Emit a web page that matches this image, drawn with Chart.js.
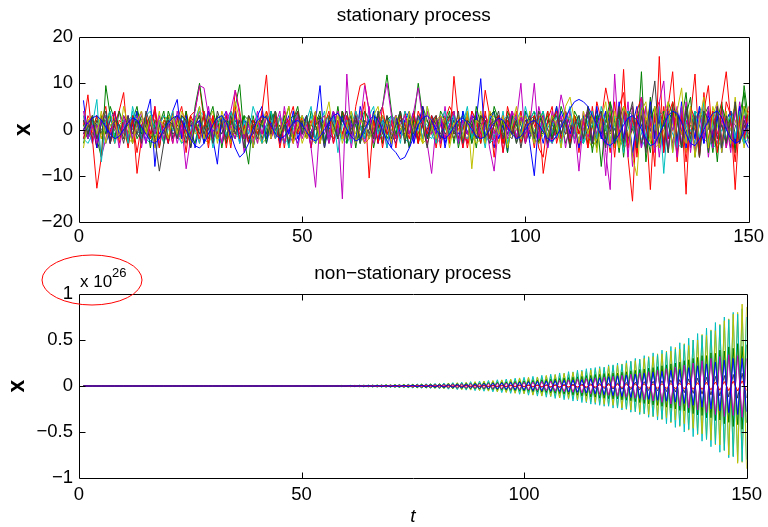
<!DOCTYPE html>
<html><head><meta charset="utf-8">
<script src="https://cdn.jsdelivr.net/npm/chart.js@4.4.0/dist/chart.umd.min.js"></script>
<style>
html,body{margin:0;padding:0;background:#fff;}
#wrap{position:relative;width:768px;height:527px;overflow:hidden;}
canvas{position:absolute;left:0;}
#c1{top:0;width:768px;height:260px;}
#c2{top:250px;width:768px;height:277px;}
</style></head><body>
<div id="wrap"><canvas id="c1" width="768" height="260"></canvas><canvas id="c2" width="768" height="277"></canvas></div>
<script>
// ---------- tick labels ----------
const xTicks = [0, 50, 100, 150];
const yTicksTop = [-20, -10, 0, 10, 20];
const yTicksBottom = [-1, -0.5, 0, 0.5, 1];
const exponentLabel = '26';

// ---------- stationary process (top) ----------
const sBlue1 = [
6.3,-2,3,-4,2,1,-3,4,-1,2,
-3,1,4,-2,3,6.6,-8,2,1,-3,
4,6.5,-2,3,-4,1,2,-3,4,-2,
-7.5,3,1,-2,4,-3,2,1,-4,3,
5,-2,1,3,-3,2,-1,4,-2,1,
3,-4,2,9.5,-3,1,4,-2,3,-1,
2,-3,5,1,-2,4,-3,2,1,-4,
3,-1,2,4,-3,1,5,-2,2,-1,
3,-4,1,2,-3,4,-1,3,2,11,
-3,2,4,-2,1,-5,3,2,-1,4,
-3,-10,2,3,-4,1,5,-2,3,-1,
2,-4,3,1,-3,5,-2,4,1,-3,
6,-2,4,-5,3,1,-4,6,-2,3,
-5,4,2,-3,6,-4,3,-2,5,-3,
4,-2,3,-5,2,4,-3,5,-2,-4];
const sGreen1 = [
2,-1,3,-2,-6,9.5,3,-2,4,1,
-3,2,5,-1,3,-4,2,1,-3,4,
1,-2,3,2,-4,5,10,3,-2,1,
3,-4,2,1,5,9.7,-2,-7.5,3,-1,
2,-3,4,1,-2,3,-4,2,5,-1,
3,-2,1,4,-3,2,1,-2,4,-3,
2,1,-3,4,2,-1,3,5,11.8,4,
-2,3,1,-4,2,10,3,-2,1,-3,
4,2,-1,3,-4,1,2,-3,5,1,
-2,3,4,-1,2,-5,3,1,-2,4,
2,-3,1,4,-2,3,-1,5,2,-4,
3,1,-2,4,-5,3,-8,2,6,-3,
4,-6,3,5,-4,12.5,-7,2,5,-3,
4,-5,6,2,-4,3,7,-6,2,4,
-5,3,-7,5,2,-4,6,-3,9.5,2];
const sRed1 = [
1,7.5,-2,-12.7,-6,2,-1,4,-3,2,
-4,3,-9.5,-2,3,-1,5,-2,1,-3,
4,-2,2,-5,3,1,-2,4,-3,2,
-1,3,-4,2,5,-2,1,-3,2,-1,
4,11.8,-2,3,-4,1,2,-3,4,-1,
2,-4,3,-2,1,4,-3,2,-1,3,
-2,4,1,6,-10.5,2,-3,5,-1,2,
-4,3,1,-2,4,-3,2,-1,3,-4,
2,1,-3,11.5,2,-4,3,-1,2,-3,
4,-2,1,3,-5,2,-1,4,-3,1,
2,-4,3,-9.5,-3,2,4,-2,1,-3,
3,-1,2,-4,5,-2,3,1,-5,6,
-3,13,-6,-15.5,4,7,-4,2,-8,15.8,
-5,3,6,-7,4,-14,5,2,-6,8,
-3,4,-5,6,12.5,2,-7,4,-2,5];
const sCyan1 = [
3,-2,1,6.5,-7,2,4,-3,1,2,
-3,5,1,-2,3,4,-1,2,-3,1,
4,-2,3,1,-3,2,5,-1,2,-4,
1,3,-2,4,1,-3,2,-1,5,2,
-3,1,4,-2,3,1,-4,2,3,-1,
2,5,-3,1,4,-2,3,-5,1,2,
-3,4,1,-2,3,5,-1,2,-4,3,
1,-3,4,2,-1,3,-2,5,1,-3,
2,4,-1,3,-3,1,5,-2,2,1,
-4,3,2,-1,4,-3,1,3,-2,5,
1,-3,2,4,-2,1,3,-4,2,5,
-1,3,-3,2,4,-2,5,1,-4,3,
2,-5,4,1,-3,6,-2,3,-4,5,
-9.5,3,2,-4,5,1,-3,4,-2,6,
-3,2,5,-4,1,3,-2,4,-3,1];
const sMagenta1 = [
4,-2,1,-3,2,3,-1,2,-4,1,
3,-2,1,4,-3,2,-1,3,-2,1,
2,-3,1,-8.5,-2,4,9.5,9,3,-2,
1,-3,2,4,8.5,3,-2,1,-3,2,
-1,3,-2,1,4,-3,2,-1,3,-2,
1,-4,-12.5,2,3,-2,4,1,-15,12,
-2,3,1,9.5,4,-3,2,5,10,3,
-2,1,3,-1,4,9,2,-3,-9.5,1,
3,-2,1,4,-3,2,-1,3,-2,1,
2,-4,-9,1,3,-2,4,2,10,-3,
1,10,-2,3,-4,2,1,7.5,3,-2,
1,-9,2,4,-3,1,3,-5,-13,12,
-3,4,-6,5,-2,7,-4,3,-5,6,
10.5,-4,3,-6,5,-3,4,-5,3,-2,
5,-4,6,-3,2,-5,4,-2,3,-1];
const sYellow1 = [
-4,2,3,-1,4,-3,1,2,-2,5,
1,-3,2,4,-1,3,-4,2,1,-2,
3,-1,4,2,-3,1,5,-2,3,1,
-2,4,1,-3,6,2,-1,3,-4,2,
1,3,-2,4,-1,2,5,-3,1,3,
-2,1,4,-3,2,6,-1,3,-2,1,
4,-3,2,1,-2,3,5,-1,2,-3,
3,1,-2,4,-1,2,-3,5,1,-2,
3,2,-4,1,3,-2,4,-8.5,2,1,
-3,4,2,-1,3,-4,1,5,-2,3,
1,-3,4,2,-2,3,1,-4,5,7,
2,-3,4,-1,3,-5,2,6,-3,4,
-4,5,3,-6,-10,4,6,-3,5,-4,
3,6,-5,4,9,-3,5,-6,2,7,
-4,3,6,-5,4,-3,7,-2,5,3];
const sGray1 = [
2,-1,3,-2,1,4,-3,2,1,-2,
3,-1,2,-3,4,1,-2,-9,-3,2,
1,-2,3,2,-4,1,3,-1,2,-3,
4,1,-2,3,-1,2,-4,3,1,-2,
2,3,-1,4,-2,1,-3,2,4,-1,
3,-2,1,2,-4,3,1,-2,2,4,
-1,3,-3,2,1,-2,4,-1,3,-2,
1,4,-3,2,-1,3,1,-4,2,3,
-2,1,3,-1,4,-3,2,1,-2,3,
2,-3,1,4,-2,3,-1,2,-4,1,
3,-2,4,1,-3,2,3,-1,2,-4,
1,3,-2,5,-3,2,4,-4,3,-2,
5,-3,2,6,-4,3,-5,4,10.5,-3,
2,-5,4,3,-4,5,-2,3,-6,4,
2,-3,5,-4,3,-2,6,-3,2,-1];
const sGreen2 = [
-3,1,2,-4,3,-1,5,2,-2,3,
1,-3,4,2,-1,3,-2,1,4,-3,
2,3,-1,4,-2,1,3,-3,2,5,
-1,2,-3,4,1,-2,3,2,-4,1,
3,-1,2,4,-3,1,5,-2,3,1,
-2,4,1,-3,2,3,-1,5,-2,1,
3,-4,2,1,-2,4,1,-3,2,3,
-1,4,-2,3,1,-3,5,2,-1,3,
-2,1,4,-3,2,3,-1,2,-4,3,
1,-2,5,2,-3,4,1,-2,3,-1,
2,4,-3,1,3,-2,5,-1,2,-3,
4,2,-3,5,1,-4,3,-2,6,2,
-5,3,4,-6,2,5,-3,7,-2,4,
-4,6,3,-5,2,8,-3,4,-6,3,
5,-4,2,6,-3,4,-5,3,8,-2];
const sRed2 = [
-2,3,1,-4,2,5,-3,1,4,8,
-3,2,-5,1,3,-2,4,-4,2,1,
-3,2,5,-1,3,4,9.5,2,-4,3,
-2,1,3,-3,8.5,4,-2,3,-1,2,
-3,4,1,-2,3,-4,2,5,-1,3,
-2,1,4,-3,2,-1,3,-2,4,1,
-3,5,9.5,10,4,-2,3,-4,2,1,
3,-2,4,-1,2,-3,5,-2,1,3,
-4,2,5,3,-2,1,-3,4,2,-1,
8.5,3,-6,2,-3,5,1,-2,4,-3,
2,3,-4,-6,2,5,-3,1,4,-2,
3,-5,2,4,-3,6,2,9,4,-6,
5,8,-4,3,-6,7,2,-13,4,6,
-4,5,12.5,-3,4,-7,3,12,-5,4,
9.5,-3,5,-4,6,3,-13,3,-2,4];
const sCyan2 = [
-2,-3,-1,1,2,3,1,-1,-2,0,
2,3,2,0,-2,-3,-1,1,3,2,
0,-1,-3,-2,0,2,4,3,1,-1,
-2,-3,-1,1,2,2,0,-2,-3,-1,
1,3,2,0,-1,-3,-2,0,2,3,
1,-1,-2,-1,1,3,2,0,-2,-3,
-1,1,2,4,2,0,-2,-1,1,3,
2,0,-2,-3,-1,1,2,1,-1,-3,
-2,0,2,3,1,-1,-2,0,2,1,
-1,-3,-2,0,2,3,1,-1,-2,0,
2,4,2,0,-2,-3,-1,1,3,2,
0,-2,-3,-1,1,3,2,0,-2,-3,
-1,2,4,3,0,-2,-4,-2,1,3,
4,2,-1,-3,-4,-1,2,4,3,0,
-2,-4,-3,0,2,4,2,-1,-3,-2];
const sMagenta2 = [
-1,2,-3,1,-6,-2,2,4,-2,3,
-2,1,3,-4,2,-1,5,-3,1,2,
-3,4,-1,2,-4,3,1,-2,5,-1,
2,-3,4,1,-2,3,-5,2,1,-3,
4,-2,1,3,-3,5,-1,2,-4,1,
3,-2,4,-1,2,-3,1,4,-2,3,
-4,2,1,-3,5,-2,3,1,-4,2,
3,-1,2,-4,1,3,-2,4,-1,2,
-3,5,-2,1,3,-4,2,-1,4,-2,
1,3,-3,2,-5,1,4,-2,3,-1,
2,-3,5,1,-2,4,-1,3,-4,2,
1,-3,4,-2,3,-1,2,-10,5,-3,
4,-2,6,-8,3,-4,5,-2,4,-6,
3,5,-4,2,-3,6,-5,3,-2,4,
-6,3,-2,5,-4,2,-3,6,-1,2];
const sYellow2 = [
1,2,0,-2,-1,1,3,2,0,-1,
-3,-2,0,2,1,-1,-2,0,2,3,
1,-1,-2,-1,1,2,0,-2,-3,-1,
1,3,2,0,-1,-2,0,2,1,-1,
-3,-2,1,3,2,0,-2,-1,1,2,
0,-2,-3,-1,2,3,1,-1,-2,0,
2,1,-1,-3,-2,0,2,3,1,-1,
-2,0,1,3,2,-1,-3,-2,0,2,
3,1,-1,-2,0,2,1,-1,-3,-2,
0,2,3,1,-1,-2,-1,1,3,2,
0,-2,-3,-1,1,2,0,-2,-1,1,
3,2,0,-2,-4,-2,1,3,4,1,
-2,-4,-3,0,3,5,2,-1,-4,-3,
0,3,4,2,-1,-3,-2,1,3,4,
1,-2,-4,-2,1,3,2,-1,-3,0];
const sGray2 = [
-1,1,-2,2,0,-1,2,1,-2,0,
1,2,-1,-2,1,3,0,-2,1,2,
-1,0,2,-2,1,2,-1,0,3,1,
-2,1,2,-1,0,2,1,-2,-1,2,
1,-1,3,0,-2,1,2,-1,0,2,
-2,1,0,2,3,-1,-2,1,2,0,
-1,2,1,-2,0,2,3,1,-1,-2,
1,2,0,-1,2,1,-2,0,3,1,
-1,2,0,-2,1,2,-1,1,3,0,
-2,1,2,-1,0,2,1,-3,0,2,
1,-1,2,3,0,-2,1,2,-1,0,
2,1,-2,0,3,1,-1,2,0,-3,
1,3,-2,0,2,-3,1,4,-1,2,
-3,1,3,-2,2,0,-3,2,4,-1,
0,3,-2,1,-3,2,1,-2,3,0];
const sBlue3 = [
-2,1,3,-1,2,-3,0,2,-2,1,
3,-2,0,1,-3,2,4,-1,1,-2,
0,3,-2,1,2,-4,1,3,-1,0,
-2,2,4,-3,1,0,-2,3,1,-1,
2,-3,1,4,-2,0,3,-1,-3,2,
1,-1,3,2,-4,1,0,2,-2,3,
1,-2,4,-1,0,3,-3,1,2,-1,
-3,2,0,1,4,-2,1,-1,3,0,
2,-3,1,3,-1,0,4,-2,1,-2,
3,0,-4,2,1,-1,3,-2,0,2,
-1,3,1,-3,2,0,-2,4,1,-1,
2,-4,0,3,-2,1,4,-3,2,0,
-2,4,-3,1,5,-4,2,0,-3,4,
1,-2,5,-3,0,4,-4,2,1,-3,
3,-1,4,-4,2,0,-3,5,-2,1];
const sGreen3 = [
1,-2,0,3,-1,2,-3,1,0,2,
-1,3,-2,0,2,-1,1,-4,2,3,
-2,0,1,3,-1,-3,2,0,4,-2,
1,3,-1,-2,2,0,3,-3,1,2,
-2,0,4,-1,1,-3,2,3,-1,0,
2,-2,1,3,-3,0,2,-1,4,1,
-2,3,0,-1,2,-4,1,3,-2,0,
1,4,-3,2,0,-1,3,-2,1,2,
-3,0,2,4,-2,1,-1,3,0,-3,
2,1,-2,3,-1,0,4,-3,2,1,
-2,3,0,-1,4,-2,1,2,-3,0,
3,-1,2,-3,1,4,-2,0,3,-4,
2,5,-3,1,-4,3,0,-5,4,2,
-3,1,4,-2,5,-3,1,0,-4,3,
2,-5,3,1,-3,4,-1,-2,5,-3];
const sRed3 = [
0,2,-1,3,-2,1,0,-3,2,1,
-2,3,1,-1,0,2,-3,1,3,-2,
1,0,-2,4,-1,2,-3,1,0,3,
-2,1,2,-4,3,0,-1,2,-2,1,
3,-1,0,2,-3,4,1,-2,0,3,
-1,2,-3,1,2,-2,4,0,-1,2,
3,-3,1,0,2,-1,-2,3,1,-3,
2,0,-1,3,-2,4,1,-3,0,2,
1,-2,3,-1,0,2,-4,1,3,-1,
-2,4,0,-3,2,1,-1,3,-2,0,
3,1,-2,0,4,-3,2,-1,1,3,
-2,0,3,-4,1,2,-1,4,-3,2,
0,-4,3,2,-5,4,1,-2,3,-4,
5,-2,0,3,-4,2,-1,4,-3,1,
-2,4,-1,3,-4,2,5,-3,1,-2];
const sCyan3 = [
2,0,-3,1,2,-1,3,-2,0,1,
-2,4,-1,0,3,-2,1,2,-3,0,
1,3,-2,-1,2,0,-3,4,1,-2,
0,2,3,-1,-2,1,0,3,-4,2,
1,-2,3,0,-1,2,-3,1,4,-1,
0,3,-2,1,-3,2,0,-1,3,-2,
4,1,-3,0,2,-2,1,3,-1,0,
-2,3,1,-4,2,0,3,-1,-2,1,
3,-1,0,2,-3,4,1,-2,0,3,
-1,2,-2,1,3,-3,0,2,4,-2,
1,0,-3,2,1,-1,4,-2,0,3,
-2,1,3,-1,-3,2,0,4,-2,1,
3,-2,0,4,-3,-1,5,-2,1,-4,
2,3,-5,1,4,-2,0,-3,5,2,
-4,1,3,-2,0,4,-3,2,-1,3];
const sMagenta3 = [
-1,2,1,-2,3,0,-2,1,4,-1,
2,-3,0,1,-1,3,2,-2,0,-3,
3,1,-1,2,-2,0,4,-1,1,-2,
2,0,-3,1,3,-1,2,-2,0,4,
-1,1,3,-2,0,2,-1,-3,2,1,
0,-2,3,1,-1,2,-3,0,4,-2,
1,2,-1,-3,3,0,1,-2,2,-1,
3,-2,0,1,-3,2,4,-1,0,-2,
1,3,-2,0,2,-1,-3,4,1,-1,
0,2,-1,3,-3,1,2,0,-2,3,
-1,-2,3,1,0,-3,2,1,-1,4,
-3,2,0,1,3,-2,-1,4,0,-2,
3,-3,4,0,-2,5,-4,1,3,-1,
-4,2,0,5,-3,1,4,-2,-3,2,
4,-1,-3,2,0,3,-5,1,2,-3];
const sYellow3 = [
3,-1,0,2,-2,1,3,-3,0,2,
-1,1,3,-2,0,2,-1,4,-3,1,
0,2,-3,1,3,-1,0,-2,2,4,
-3,1,0,2,-1,3,-2,0,1,-3,
2,4,-1,0,-2,3,1,-1,2,-3,
0,1,3,-2,2,-1,0,3,-3,1,
2,-1,4,-2,0,1,3,-3,2,0,
-1,3,1,-2,0,2,-3,4,0,-1,
2,1,-3,2,0,-2,3,1,-1,4,
-2,0,2,-3,1,3,-1,0,2,-2,
4,-1,1,3,-3,0,2,-2,1,3,
0,-3,2,1,4,-2,0,-1,3,-4,
1,3,-2,4,0,-3,2,5,-4,1,
-2,4,1,-3,3,-5,2,0,4,-2,
-3,5,1,-4,2,0,-2,3,-4,2];
const sGray3 = [
0,-2,2,1,-1,3,-2,0,1,-3,
2,0,-1,3,1,-2,0,2,-1,3,
-2,1,0,-3,2,1,-1,3,0,-2,
1,-1,3,0,-2,2,1,-3,2,0,
-1,3,-2,1,0,2,-3,1,3,-1,
2,0,-2,3,1,-3,2,0,-1,2,
0,3,-2,1,-1,2,0,-3,3,1,
-2,0,2,-1,3,-3,1,2,0,-2,
3,-1,0,2,-2,1,3,-3,0,1,
2,-2,1,0,3,-1,-2,2,1,-3,
0,2,-1,3,-2,1,0,-3,4,1,
-1,3,-2,0,2,-3,1,3,-1,0,
2,-4,3,1,-2,4,-3,0,2,-4,
3,1,-3,4,-1,-2,3,0,-4,2,
1,-3,4,-2,0,3,-4,2,1,-2];
const sBlue2 = [
0,1.5,2.5,3,2,0.5,-1,-2,-1.5,0,
1.5,2.5,2,0.5,-1,-2.5,-3,-2,0,1.5,
2.5,3,2,0,-2,-3.5,-4,-3,-1,1,
2.5,3,1.5,-1,-4,-6,-5,-3,0,2,
3,2.5,1,-1,-2,-1.5,0,1.5,2,1,
-0.5,-2,-2.5,-1.5,0,1.5,3,3.5,2,0,
-1.5,-2.5,-2,0,2,3,2,0,-2.5,-4,
-5,-6.5,-6,-4,-1.5,1,2.5,3,2,0,
-1.5,-2,-1,0.5,2,2.5,1.5,0,-1.5,-2,
-1.5,0,1.5,2.5,2,0.5,-1,-2,-1.5,0,
1.5,2,1,-0.5,-2,-2.5,-1.5,0.5,2.5,4.5,
6,6.5,6,5,3,1,-1.5,-3,-3.5,-2.5,
-1,1,2.5,3,2,0,-2,-3.5,-3,-1,
1,3,4,3.5,1.5,-1,-3,-3.5,-2,0,
2,3.5,4,2.5,0,-2,-3,-2.5,-0.5,1.5];

// ---------- non-stationary process (bottom), in units of 1e26 ----------
const nYellow = [
0,0,0,0,0,0,0,0,0,0,
0,0,0,0,0,0,0,0,0,0,
0,0,0,0,0,0,0,0,0,0,
0,0,0,0,0,0,0,0,0,0,
0.001,-0.001,0.001,-0.002,0.002,-0.002,0.002,-0.002,0.003,-0.003,
0.003,-0.003,0.004,-0.004,0.004,-0.005,0.005,-0.005,0.006,-0.006,
0.006,-0.008,0.007,-0.009,0.008,-0.01,0.011,-0.01,0.013,-0.012,
0.015,-0.014,0.017,-0.016,0.019,-0.02,0.021,-0.023,0.024,-0.027,
0.028,-0.03,0.033,-0.032,0.036,-0.04,0.041,-0.045,0.048,-0.05,
0.054,-0.056,0.06,-0.064,0.067,-0.072,0.076,-0.08,0.088,-0.085,
0.095,-0.1,0.098,-0.11,0.116,-0.112,0.125,-0.13,0.138,-0.135,
0.15,-0.148,0.16,-0.17,0.175,-0.18,0.19,-0.2,0.215,-0.21,
0.225,-0.24,0.25,-0.26,0.275,-0.285,0.3,-0.31,0.32,-0.33,
0.35,-0.345,0.38,-0.37,0.4,-0.41,0.44,-0.46,0.5,-0.52,
0.55,-0.59,0.6,-0.64,0.71,-0.75,0.78,-0.84,0.89,-0.9];
const nYellow2 = [
0,0,0,0,0,0,0,0,0,0,
0,0,0,0,0,0,0,0,0,0,
0,0,0,0,0,0,0,0,0,0,
0,0,0,0,0,0,0,0,0,0,
-0.001,0.001,-0.001,0.001,-0.002,0.002,-0.002,0.002,-0.002,0.002,
-0.003,0.003,-0.003,0.003,-0.004,0.004,-0.004,0.004,-0.005,0.005,
-0.005,0.006,-0.006,0.007,-0.007,0.008,-0.008,0.009,-0.01,0.011,
-0.011,0.012,-0.013,0.014,-0.015,0.016,-0.017,0.018,-0.019,0.021,
-0.022,0.024,-0.025,0.027,-0.029,0.031,-0.033,0.035,-0.037,0.04,
-0.042,0.045,-0.048,0.051,-0.054,0.058,-0.061,0.065,-0.069,0.073,
-0.078,0.083,-0.088,0.093,-0.099,0.105,-0.11,0.117,-0.124,0.131,
-0.139,0.147,-0.155,0.164,-0.173,0.183,-0.193,0.2,-0.21,0.22,
-0.23,0.24,-0.255,0.265,-0.28,0.29,-0.305,0.32,-0.335,0.35,
-0.365,0.38,-0.4,0.42,-0.44,0.46,-0.48,0.5,-0.53,0.56,
-0.58,0.61,-0.64,0.67,-0.7,0.73,-0.76,0.8,-0.83,0.86];
const nCyan = [
0,0,0,0,0,0,0,0,0,0,
0,0,0,0,0,0,0,0,0,0,
0,0,0,0,0,0,0,0,0,0,
0,0,0,0,0,0,0,0,0,0,
-0.001,0.001,-0.002,0.002,-0.002,0.002,-0.003,0.003,-0.003,0.003,
-0.004,0.004,-0.004,0.005,-0.005,0.006,-0.006,0.006,-0.007,0.007,
-0.008,0.008,-0.009,0.01,-0.01,0.011,-0.012,0.013,-0.014,0.014,
-0.016,0.017,-0.018,0.019,-0.021,0.022,-0.024,0.025,-0.027,0.029,
-0.031,0.033,-0.035,0.037,-0.04,0.042,-0.045,0.048,-0.051,0.054,
-0.057,0.06,-0.064,0.068,-0.072,0.076,-0.08,0.085,-0.09,0.095,
-0.1,0.105,-0.11,0.116,-0.122,0.128,-0.135,0.142,-0.149,0.156,
-0.164,0.172,-0.18,0.188,-0.197,0.2,-0.21,0.205,-0.22,0.23,
-0.24,0.235,-0.25,0.27,-0.28,0.29,-0.3,0.31,-0.33,0.34,
-0.36,0.37,-0.39,0.4,-0.43,0.45,-0.47,0.5,-0.52,0.55,
-0.58,0.6,-0.63,0.66,-0.7,0.72,-0.77,0.78,-0.82,0.75];
const nCyan2 = [
0,0,0,0,0,0,0,0,0,0,
0,0,0,0,0,0,0,0,0,0,
0,0,0,0,0,0,0,0,0,0,
0,0,0,0,0,0,0,0,0,0,
0.001,-0.001,0.001,-0.001,0.002,-0.002,0.002,-0.002,0.003,-0.003,
0.003,-0.003,0.004,-0.004,0.004,-0.005,0.005,-0.005,0.006,-0.006,
0.007,-0.007,0.008,-0.008,0.009,-0.01,0.01,-0.011,0.012,-0.013,
0.014,-0.015,0.016,-0.017,0.018,-0.019,0.02,-0.022,0.023,-0.025,
0.026,-0.028,0.03,-0.032,0.034,-0.036,0.038,-0.041,0.043,-0.046,
0.049,-0.052,0.055,-0.058,0.062,-0.065,0.069,-0.073,0.078,-0.082,
0.087,-0.092,0.098,-0.103,0.109,-0.116,0.123,-0.13,0.137,-0.145,
0.154,-0.163,0.172,-0.182,0.193,-0.2,0.21,-0.22,0.23,-0.24,
0.25,-0.26,0.275,-0.285,0.3,-0.31,0.33,-0.34,0.36,-0.37,
0.39,-0.41,0.43,-0.45,0.47,-0.5,0.52,-0.55,0.57,-0.6,
0.63,-0.66,0.69,-0.72,0.75,-0.78,0.8,-0.82,0.84,-0.8];
const nGreen = [
0,0,0,0,0,0,0,0,0,0,
0,0,0,0,0,0,0,0,0,0,
0,0,0,0,0,0,0,0,0,0,
0,0,0,0,0,0,0,0,0,0,
0.001,-0.001,0.001,-0.001,0.001,-0.002,0.002,-0.002,0.002,-0.002,
0.002,-0.003,0.003,-0.003,0.003,-0.004,0.004,-0.004,0.005,-0.005,
0.005,-0.006,0.006,-0.007,0.007,-0.008,0.008,-0.009,0.01,-0.01,
0.011,-0.012,0.012,-0.013,0.014,-0.015,0.016,-0.017,0.018,-0.019,
0.02,-0.021,0.022,-0.024,0.025,-0.026,0.028,-0.029,0.031,-0.033,
0.034,-0.036,0.038,-0.04,0.042,-0.045,0.047,-0.05,0.052,-0.055,
0.058,-0.061,0.064,-0.067,0.071,-0.074,0.078,-0.082,0.086,-0.09,
0.095,-0.1,0.104,-0.11,0.115,-0.121,0.127,-0.133,0.135,-0.14,
0.14,-0.15,0.155,-0.16,0.17,-0.18,0.185,-0.195,0.2,-0.21,
0.22,-0.23,0.24,-0.25,0.26,-0.27,0.285,-0.3,0.31,-0.32,
0.33,-0.345,0.355,-0.37,0.38,-0.395,0.41,-0.42,0.43,-0.4];
const nGreen2 = [
0,0,0,0,0,0,0,0,0,0,
0,0,0,0,0,0,0,0,0,0,
0,0,0,0,0,0,0,0,0,0,
0,0,0,0,0,0,0,0,0,0,
-0.001,0.001,-0.001,0.001,-0.001,0.001,-0.002,0.002,-0.002,0.002,
-0.002,0.002,-0.003,0.003,-0.003,0.003,-0.004,0.004,-0.004,0.004,
-0.005,0.005,-0.006,0.006,-0.007,0.007,-0.008,0.008,-0.009,0.009,
-0.01,0.011,-0.011,0.012,-0.013,0.014,-0.015,0.016,-0.017,0.018,
-0.019,0.02,-0.021,0.023,-0.024,0.025,-0.027,0.028,-0.03,0.032,
-0.033,0.035,-0.037,0.039,-0.041,0.044,-0.046,0.049,-0.051,0.054,
-0.057,0.06,-0.063,0.067,-0.07,0.074,-0.078,0.082,-0.087,0.091,
-0.096,0.1,-0.107,0.113,-0.119,0.125,-0.132,0.135,-0.137,0.14,
-0.14,0.15,-0.155,0.165,-0.17,0.18,-0.19,0.195,-0.205,0.21,
-0.22,0.23,-0.24,0.25,-0.265,0.275,-0.29,0.3,-0.315,0.33,
-0.345,0.36,-0.375,0.39,-0.41,0.425,-0.44,0.46,-0.47,0.45];
const nMagenta = [
0,0,0,0,0,0,0,0,0,0,
0,0,0,0,0,0,0,0,0,0,
0,0,0,0,0,0,0,0,0,0,
0,0,0,0,0,0,0,0,0,0,
-0.001,0.001,-0.001,0.001,-0.001,0.001,-0.002,0.002,-0.002,0.002,
-0.002,0.002,-0.003,0.003,-0.003,0.003,-0.003,0.004,-0.004,0.004,
-0.004,0.005,-0.005,0.005,-0.006,0.006,-0.007,0.007,-0.007,0.008,
-0.008,0.009,-0.009,0.01,-0.011,0.011,-0.012,0.013,-0.013,0.014,
-0.015,0.016,-0.017,0.018,-0.019,0.02,-0.021,0.022,-0.023,0.024,
-0.026,0.027,-0.028,0.03,-0.031,0.033,-0.035,0.036,-0.038,0.04,
-0.042,0.044,-0.046,0.049,-0.051,0.054,-0.056,0.059,-0.062,0.065,
-0.068,0.072,-0.075,0.079,-0.083,0.087,-0.091,0.096,-0.1,0.105,
-0.11,0.116,-0.121,0.127,-0.133,0.14,-0.147,0.154,-0.162,0.17,
-0.178,0.187,-0.196,0.206,-0.216,0.226,-0.237,0.249,-0.261,0.274,
-0.287,0.3,-0.31,0.32,-0.33,0.34,-0.32,0.33,-0.34,0.3];
const nGray = [
0,0,0,0,0,0,0,0,0,0,
0,0,0,0,0,0,0,0,0,0,
0,0,0,0,0,0,0,0,0,0,
0,0,0,0,0,0,0,0,0,0,
0,0,0,0,0,0,0,0,0,0,
0,0,0,0,0,0,0,0,0,0,
0.001,-0.001,0.001,-0.001,0.001,-0.002,0.002,-0.002,0.002,-0.002,
0.002,-0.003,0.003,-0.003,0.003,-0.003,0.004,-0.004,0.004,-0.004,
0.004,-0.005,0.005,-0.005,0.005,-0.005,0.006,-0.006,0.006,-0.006,
0.006,-0.006,0.007,-0.007,0.008,-0.008,0.009,-0.009,0.01,-0.01,
0.011,-0.012,0.012,-0.013,0.014,-0.015,0.016,-0.017,0.018,-0.019,
0.02,-0.021,0.022,-0.024,0.025,-0.026,0.028,-0.029,0.031,-0.033,
0.034,-0.036,0.038,-0.04,0.042,-0.044,0.047,-0.049,0.052,-0.054,
0.057,-0.06,0.063,-0.066,0.07,-0.073,0.077,-0.081,0.085,-0.089,
0.094,-0.099,0.104,-0.109,0.114,-0.12,0.126,-0.132,0.139,-0.13];
const nRed = [
0,0,0,0,0,0,0,0,0,0,
0,0,0,0,0,0,0,0,0,0,
0,0,0,0,0,0,0,0,0,0,
0,0,0,0,0,0,0,0,0,0,
0,0,0,0,0,0,0,0,0,0,
0,0,0,0,0,0,0,0,0,0,
0,0,0,0,0,0,0,0,0,0,
0,0,0,0,0,0,0,0,0,0,
0.001,-0.001,0.001,-0.001,0.002,-0.002,0.002,-0.002,0.002,-0.002,
0.003,-0.003,0.003,-0.003,0.003,-0.004,0.004,-0.004,0.004,-0.005,
0.005,-0.005,0.006,-0.006,0.006,-0.007,0.007,-0.008,0.008,-0.009,
0.009,-0.01,0.01,-0.011,0.012,-0.012,0.013,-0.014,0.014,-0.015,
0.016,-0.017,0.018,-0.018,0.019,-0.02,0.021,-0.022,0.023,-0.024,
0.025,-0.026,0.028,-0.029,0.03,-0.032,0.033,-0.035,0.036,-0.038,
0.04,-0.042,0.044,-0.046,0.048,-0.05,0.052,-0.054,0.056,-0.05];
const nBlue = [
0,0,0,0,0,0,0,0,0,0,
0,0,0,0,0,0,0,0,0,0,
0,0,0,0,0,0,0,0,0,0,
0,0,0,0,0,0,0,0,0,0,
0,0,0,0,0,0,0,0,0,0,
0,0,0,0,0,0,0,0,0,0,
0.002,-0.002,0.002,-0.003,0.003,-0.003,0.004,-0.004,0.004,-0.005,
0.005,-0.006,0.006,-0.007,0.008,-0.008,0.009,-0.01,0.011,-0.012,
0.013,-0.014,0.015,-0.016,0.018,-0.019,0.02,-0.022,0.023,-0.025,
0.027,-0.028,0.03,-0.032,0.034,-0.036,0.038,-0.04,0.042,-0.044,
0.046,-0.048,0.05,-0.052,0.054,-0.056,0.058,-0.06,0.062,-0.064,
0.066,-0.068,0.07,-0.075,0.08,-0.085,0.09,-0.095,0.1,-0.105,
0.11,-0.115,0.12,-0.125,0.13,-0.135,0.14,-0.145,0.15,-0.155,
0.16,-0.165,0.17,-0.175,0.18,-0.19,0.2,-0.21,0.22,-0.23,
0.24,-0.25,0.26,-0.27,0.28,-0.29,0.3,-0.31,0.3,-0.28];

// MATLAB default colour order
const C = {blue:'#0000ff', green:'#008000', red:'#ff0000', cyan:'#00bfbf', magenta:'#bf00bf', yellow:'#bfbf00', gray:'#404040'};

// draw order bottom -> top
const topSeries = [
  [sBlue3,C.blue],[sGreen3,C.green],[sRed3,C.red],[sCyan3,C.cyan],[sMagenta3,C.magenta],[sYellow3,C.yellow],[sGray3,C.gray],
  [sGreen2,C.green],[sRed2,C.red],[sCyan2,C.cyan],[sMagenta2,C.magenta],[sYellow2,C.yellow],[sGray2,C.gray],
  [sBlue1,C.blue],[sGreen1,C.green],[sRed1,C.red],[sCyan1,C.cyan],[sMagenta1,C.magenta],[sYellow1,C.yellow],[sGray1,C.gray],
  [sBlue2,C.blue]];
const bottomSeries = [
  [nYellow2,C.yellow],[nCyan2,C.cyan],[nYellow,C.yellow],[nCyan,C.cyan],
  [nGreen2,C.green],[nGreen,C.green],[nMagenta,C.magenta],[nGray,C.gray],[nRed,C.red],[nBlue,C.blue]];

const FONT = 'Liberation Sans, Arial, Helvetica, sans-serif';

function mkDatasets(list){
  // Chart.js paints dataset 0 last (on top), so reverse
  return list.map(([arr,col]) => ({
    data: arr.map((v,i)=>({x:i+1, y:v})),
    borderColor: col, borderWidth: 1, pointRadius: 0, fill: false, tension: 0
  })).reverse();
}

function fmt(v){ const s = String(Math.round(v*100)/100); return s.replace('-', '\u2212'); }

const deco = {
  id: 'deco',
  afterDatasetsDraw(chart, args, o){
    const {ctx, chartArea:a, scales:{x,y}} = chart;
    ctx.save();
    ctx.strokeStyle = '#000'; ctx.lineWidth = 1;
    const L = Math.round(a.left)+0.5, T = Math.round(a.top)+0.5;
    const R = Math.round(a.right)+0.5, B = Math.round(a.bottom)+0.5;
    ctx.beginPath();
    ctx.rect(L, T, R-L, B-T);
    const TL = 6;
    x.ticks.forEach(t=>{
      const p = Math.round(x.getPixelForValue(t.value))+0.5;
      if (p > L+1 && p < R-1){ ctx.moveTo(p,B); ctx.lineTo(p,B-TL); ctx.moveTo(p,T); ctx.lineTo(p,T+TL); }
    });
    y.ticks.forEach(t=>{
      const p = Math.round(y.getPixelForValue(t.value))+0.5;
      if (p > T+1 && p < B-1){ ctx.moveTo(L,p); ctx.lineTo(L+TL,p); ctx.moveTo(R,p); ctx.lineTo(R-TL,p); }
    });
    ctx.stroke();
    // title
    ctx.fillStyle = '#000';
    ctx.font = '19px ' + FONT;
    ctx.textAlign = 'center'; ctx.textBaseline = 'alphabetic';
    ctx.fillText(o.title, (a.left+a.right)/2, a.top - o.titleGap);
    // y label
    ctx.save();
    ctx.translate(o.ylabX, (a.top+a.bottom)/2);
    ctx.rotate(-Math.PI/2);
    ctx.font = 'bold 23px ' + FONT;
    ctx.textBaseline = 'middle';
    ctx.fillText('x', 0, 0);
    ctx.restore();
    if (o.xlabel){
      ctx.font = 'italic 19px ' + FONT;
      ctx.textBaseline = 'alphabetic';
      ctx.fillText(o.xlabel, (a.left+a.right)/2, a.bottom + 44);
    }
    if (o.exponent){
      ctx.textAlign = 'left';
      ctx.font = '17px ' + FONT;
      ctx.fillText('x 10', a.left + 1, a.top - 7);
      ctx.font = '13px ' + FONT;
      ctx.fillText(o.exponent, a.left + 33, a.top - 17);
      ctx.strokeStyle = '#ff0000'; ctx.lineWidth = 1;
      ctx.beginPath();
      ctx.ellipse(a.left + 13, a.top - 14, 50, 25, 0, 0, Math.PI*2);
      ctx.stroke();
    }
    ctx.restore();
  }
};

function mkChart(id, list, yMin, yMax, yTickVals, padTop, xAxisH, xPad, deco_o){
  return new Chart(document.getElementById(id), {
    type: 'line',
    data: { datasets: mkDatasets(list) },
    options: {
      responsive: false, animation: false, events: [],
      layout: { padding: { top: padTop, right: 19, left: 0, bottom: 0 } },
      plugins: { legend: {display:false}, tooltip: {enabled:false}, title:{display:false}, deco: deco_o },
      scales: {
        x: { type:'linear', min: xTicks[0], max: xTicks[xTicks.length-1],
             afterBuildTicks: s => { s.ticks = xTicks.map(v=>({value:v})); },
             afterFit: s => { s.height = xAxisH; },
             grid: {display:false, drawTicks:false}, border:{display:false},
             ticks: { color:'#000', padding: xPad, font:{family:FONT, size:18.5}, maxRotation:0, autoSkip:false, callback: v => fmt(v) } },
        y: { type:'linear', min: yMin, max: yMax,
             afterBuildTicks: s => { s.ticks = yTickVals.map(v=>({value:v})); },
             afterFit: s => { s.width = 79; },
             grid: {display:false, drawTicks:false}, border:{display:false},
             ticks: { color:'#000', padding: 6, font:{family:FONT, size:18.5}, autoSkip:false, callback: v => fmt(v) } }
      }
    },
    plugins: [deco]
  });
}

mkChart('c1', topSeries, -20, 20, yTicksTop, 37, 38, 4,
  {title:'stationary process', titleGap:16, ylabX:24});
mkChart('c2', bottomSeries, -1, 1, yTicksBottom, 44, 49, 6,
  {title:'non\u2212stationary process', titleGap:15, ylabX:18, xlabel:'t', exponent: exponentLabel});
</script></body></html>
